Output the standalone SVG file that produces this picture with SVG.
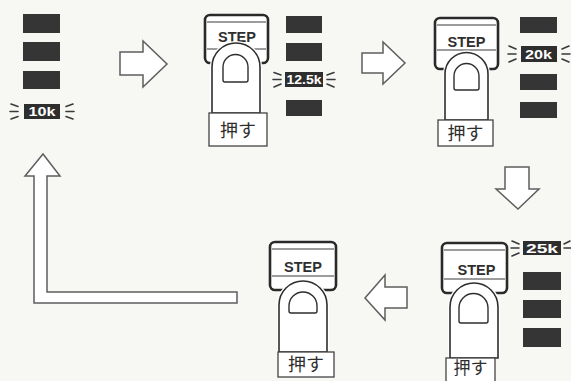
<svg xmlns="http://www.w3.org/2000/svg" width="571" height="381" viewBox="0 0 571 381">
  <style>
    .bg { fill: #f7f7f4; }
    .bar { fill: #353535; }
    .lit { fill: #2e2e2e; }
    .val { font-family: "Liberation Sans", Arial, sans-serif; font-weight: bold; font-size: 12.5px; fill: #ffffff; }
    .ray { stroke: #3a3a3a; stroke-width: 1.6; stroke-linecap: round; fill: none; }
    .btn { fill: #ffffff; stroke: #2a2a2a; stroke-width: 2.6; }
    .btn-line { stroke: #3a3a3a; stroke-width: 1.2; fill: none; }
    .step { font-family: "Liberation Sans", Arial, sans-serif; font-weight: bold; font-size: 14.5px; fill: #2e2e2e; text-anchor: middle; }
    .halo { fill: none; stroke: #ffffff; stroke-width: 4; }
    .finger { fill: #ffffff; stroke: #2e2e2e; stroke-width: 1.6; }
    .nail { fill: #ffffff; stroke: #2e2e2e; stroke-width: 1.4; }
    .label { fill: #ffffff; stroke: #444444; stroke-width: 1.3; }
    .press { font-family: "Noto Sans CJK JP", "Noto Sans", sans-serif; font-size: 18px; fill: #2e2e2e; text-anchor: middle; }
    .arrow { fill: #ffffff; stroke: #5e5e5e; stroke-width: 1.5; stroke-linejoin: miter; }
  </style>

  <rect class="bg" x="0" y="0" width="571" height="381"/>

  <!-- flow arrows between the stages -->
  <g id="connectors">
    <polygon class="arrow" points="120,52 143,52 143,41 167,64 143,87 143,75 120,75"/>
    <polygon class="arrow" points="362,53 383,53 383,42 405,63 383,84 383,73 362,73"/>
    <polygon class="arrow" points="505,167 529,167 529,189 539,189 518,209 496,189 505,189"/>
    <polygon class="arrow" points="407,287 407,308 385,308 385,320 365,298 385,275 385,287"/>
    <polygon class="arrow" points="237,292 47,292 47,176 60,176 43,154 25,176 34,176 34,303 237,303"/>
  </g>

  <!-- initial state: 10k lit -->
  <g id="display-10k">
    <rect class="bar" x="23" y="14" width="37" height="19"/>
    <rect class="bar" x="23" y="42" width="37" height="19"/>
    <rect class="bar" x="23" y="71" width="37" height="18"/>
    <rect class="lit" x="24" y="104" width="36" height="15"/>
    <text class="val" x="42" y="116" text-anchor="middle" textLength="27" lengthAdjust="spacingAndGlyphs">10k</text>
    <path class="ray" d="M11,104 L18,106.5 M10,111.5 H18 M11,119 L18,116.5"/>
    <path class="ray" d="M73,104 L66,106.5 M74,111.5 H66 M73,119 L66,116.5"/>
  </g>

  <!-- step 1: 12.5k -->
  <g id="step-12-5k">
    <rect class="btn" x="205" y="15" width="63" height="48" rx="5"/>
    <path class="btn-line" d="M207,22 H266 M207,49 H266"/>
    <text class="step" x="237" y="42">STEP</text>
    <path class="halo" d="M212,113 V67 A24,24 0 0 1 260,67 V113"/>
    <path class="finger" d="M212,113 V67 A24,24 0 0 1 260,67 V113 Z"/>
    <path class="nail" d="M223,80 V67 A12.5,12.5 0 0 1 248,67 V80 Q248,82 246,82 H225 Q223,82 223,80 Z"/>
    <rect class="label" x="209" y="113" width="58" height="33"/>
    <text class="press" x="238" y="137">押す</text>
    <rect class="bar" x="286" y="16" width="36" height="17"/>
    <rect class="bar" x="286" y="43" width="36" height="18"/>
    <rect class="lit" x="285" y="72" width="38" height="15"/>
    <text class="val" x="304" y="84" text-anchor="middle" textLength="35" lengthAdjust="spacingAndGlyphs">12.5k</text>
    <path class="ray" d="M274,72.5 L281,75 M273,79.5 H281 M274,87 L281,84"/>
    <path class="ray" d="M334,72.5 L327,75 M335,79.5 H327 M334,87 L327,84"/>
    <rect class="bar" x="286" y="100" width="36" height="16"/>
  </g>

  <!-- step 2: 20k -->
  <g id="step-20k">
    <rect class="btn" x="435" y="18" width="63" height="51" rx="5"/>
    <path class="btn-line" d="M437,25 H496 M437,50 H496"/>
    <text class="step" x="466.5" y="47">STEP</text>
    <path class="halo" d="M445,120 V74 A21.5,21.5 0 0 1 488,74 V120"/>
    <path class="finger" d="M445,120 V74 A21.5,21.5 0 0 1 488,74 V120 Z"/>
    <path class="nail" d="M454,88 V76 A12.5,12.5 0 0 1 479,76 V88 Q479,90 477,90 H456 Q454,90 454,88 Z"/>
    <rect class="label" x="438" y="120" width="55" height="26"/>
    <text class="press" x="465.5" y="140">押す</text>
    <rect class="bar" x="520" y="17" width="37" height="16"/>
    <rect class="lit" x="521" y="46" width="36" height="16"/>
    <text class="val" x="538.5" y="58.5" text-anchor="middle" textLength="27" lengthAdjust="spacingAndGlyphs">20k</text>
    <path class="ray" d="M509,46 L516,49 M508,54 H516 M509,62 L516,59"/>
    <path class="ray" d="M569,46 L562,49 M570,54 H562 M569,62 L562,59"/>
    <rect class="bar" x="520" y="74" width="37" height="16"/>
    <rect class="bar" x="520" y="102" width="37" height="16"/>
  </g>

  <!-- step 3: 25k -->
  <g id="step-25k">
    <rect class="btn" x="442" y="243" width="65" height="50" rx="5"/>
    <path class="btn-line" d="M444,250 H505 M444,279 H505"/>
    <text class="step" x="476.5" y="275">STEP</text>
    <path class="halo" d="M450,358 V307 A24,24 0 0 1 498,307 V358"/>
    <path class="finger" d="M450,358 V307 A24,24 0 0 1 498,307 V358 Z"/>
    <path class="nail" d="M459,321 V308 A14.5,14.5 0 0 1 488,308 V321 Q488,323 486,323 H461 Q459,323 459,321 Z"/>
    <rect class="label" x="446" y="358" width="49" height="26"/>
    <text class="press" x="470.5" y="374" style="font-size:17px">押す</text>
    <rect class="lit" x="523" y="241" width="38" height="14"/>
    <text class="val" x="542" y="252.5" text-anchor="middle" textLength="32" lengthAdjust="spacingAndGlyphs">25k</text>
    <path class="ray" d="M512,241 L519,244 M511,248 H519 M512,256 L519,253"/>
    <path class="ray" d="M570,241 L564,244 M571,248 H564"/>
    <rect class="bar" x="523" y="272" width="38" height="18"/>
    <rect class="bar" x="523" y="300" width="38" height="18"/>
    <rect class="bar" x="523" y="328" width="38" height="19"/>
  </g>

  <!-- step 4: back to start -->
  <g id="step-return">
    <rect class="btn" x="270" y="242" width="66" height="48" rx="5"/>
    <path class="btn-line" d="M272,249 H334 M272,276 H334"/>
    <text class="step" x="303" y="272">STEP</text>
    <path class="halo" d="M279,352 V305 A24,24 0 0 1 327,305 V352"/>
    <path class="finger" d="M279,352 V305 A24,24 0 0 1 327,305 V352 Z"/>
    <path class="nail" d="M289,311 V306 A14,14 0 0 1 317,306 V311 Q317,313 315,313 H291 Q289,313 289,311 Z"/>
    <rect class="label" x="278" y="352" width="56" height="25"/>
    <text class="press" x="306" y="371">押す</text>
  </g>
</svg>
